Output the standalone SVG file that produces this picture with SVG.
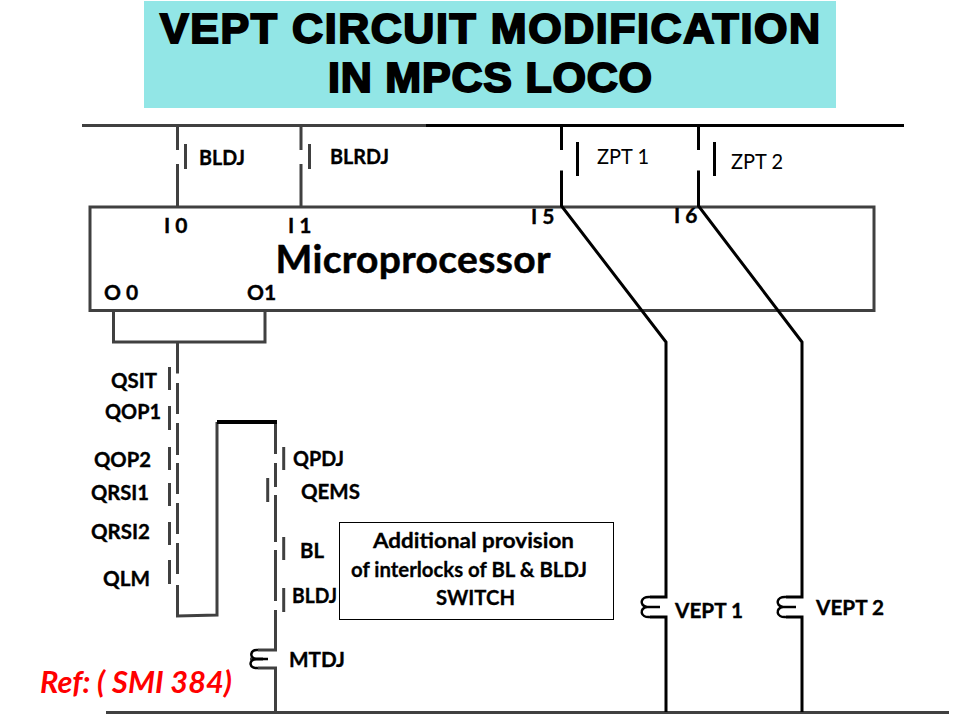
<svg xmlns="http://www.w3.org/2000/svg" width="960" height="720" viewBox="0 0 960 720">
<style>
.w{fill:none;stroke:#404040;stroke-width:3}
.k{fill:none;stroke:#000;stroke-width:3}
.c{fill:none;stroke:#000;stroke-width:2.5}
text{font-family:Lato,"Open Sans","Liberation Sans",sans-serif;fill:#000}
.l{font-size:21px;font-weight:700;stroke:#000;stroke-width:.35px}
.n{font-size:21px}
.t{font-family:"Liberation Sans",Arial,sans-serif;font-size:43px;font-weight:700;stroke:#000;stroke-width:2px;text-anchor:middle}
.b{font-size:21.500px;font-weight:700;text-anchor:middle;stroke:#000;stroke-width:.3px}
</style>
<rect id="title-bg" x="144" y="1" width="692" height="107" fill="#92E6E6"/>
<g id="title">
<text class="t" x="490" y="43" textLength="660" lengthAdjust="spacing">VEPT CIRCUIT MODIFICATION</text>
<text class="t" x="490" y="92" textLength="324" lengthAdjust="spacing">IN MPCS LOCO</text>
</g>
<g id="microprocessor">
<rect x="90" y="207" width="784" height="103.500" fill="#fff" stroke="#404040" stroke-width="3"/>
<text x="413" y="273" font-size="39" font-weight="700" text-anchor="middle" textLength="275" stroke="#000" stroke-width=".5">Microprocessor</text>
<text class="l" x="164" y="233">I 0</text>
<text class="l" x="288" y="233">I 1</text>
<text class="l" x="531" y="224">I 5</text>
<text class="l" x="674" y="223">I 6</text>
<text class="l" x="104" y="300">O 0</text>
<text class="l" x="247" y="300">O1</text>
</g>
<g id="connectors">
<path class="w" d="M82 125.500H426M106 712.500H949"/>
<path class="k" d="M426 125.500H904"/>
<path class="w" d="M177.500 125V150M177.500 164V207M301 125V150M301 164V207"/>
<path class="w" d="M113.500 311V342H265V311M177.500 342V373.500M177.500 383V414M177.500 423V455M177.500 463V494M177.500 503V534M177.500 543V574M177.500 585V616L217 615V422M275.500 422V454M275.500 463V487M275.500 495V542M275.500 550V601M275.500 610V650H258M263 659H250M258 668H275.500V712"/>
<path d="M217 422H277" fill="none" stroke="#000" stroke-width="4"/>
<path class="k" d="M561.500 125V150M561.500 170.500V206L666 342V597H650M698.500 125V150M698.500 170.500V206L802 342V597H786"/>
<path class="k" d="M650 617H666V712M786 617H802V712"/>
</g>
<g id="BLDJ"><path class="w" d="M185.500 144V169"/><text class="l" x="199" y="165" textLength="46" lengthAdjust="spacingAndGlyphs">BLDJ</text></g>
<g id="BLRDJ"><path class="w" d="M309.500 144V169"/><text class="l" x="330" y="164" textLength="59" lengthAdjust="spacingAndGlyphs">BLRDJ</text></g>
<g id="ZPT1"><path class="k" d="M577.500 142V176"/><text class="n" x="597" y="164" textLength="52" lengthAdjust="spacingAndGlyphs">ZPT 1</text></g>
<g id="ZPT2"><path class="k" d="M714.500 142V176"/><text class="n" x="731" y="169" textLength="52" lengthAdjust="spacingAndGlyphs">ZPT 2</text></g>
<g id="QSIT"><path class="w" d="M169.500 367V390"/><text class="l" x="111" y="388" textLength="46" lengthAdjust="spacingAndGlyphs">QSIT</text></g>
<g id="QOP1"><path class="w" d="M169.500 406V430"/><text class="l" x="105" y="419" textLength="56" lengthAdjust="spacingAndGlyphs">QOP1</text></g>
<g id="QOP2"><path class="w" d="M169.500 447V470"/><text class="l" x="94" y="467" textLength="57" lengthAdjust="spacingAndGlyphs">QOP2</text></g>
<g id="QRSI1"><path class="w" d="M169.500 483V506"/><text class="l" x="91" y="500" textLength="58" lengthAdjust="spacingAndGlyphs">QRSI1</text></g>
<g id="QRSI2"><path class="w" d="M169.500 522V545"/><text class="l" x="91" y="539" textLength="59" lengthAdjust="spacingAndGlyphs">QRSI2</text></g>
<g id="QLM"><path class="w" d="M169.500 560V584"/><text class="l" x="103" y="586" textLength="47" lengthAdjust="spacingAndGlyphs">QLM</text></g>
<g id="QPDJ"><path class="w" d="M283.700 447V470"/><text class="l" x="293" y="466" textLength="51" lengthAdjust="spacingAndGlyphs">QPDJ</text></g>
<g id="QEMS"><path class="w" d="M267.700 478V502"/><text class="l" x="301" y="499" textLength="59" lengthAdjust="spacingAndGlyphs">QEMS</text></g>
<g id="BL"><path class="w" d="M283.700 537V560"/><text class="l" x="300" y="558" textLength="24" lengthAdjust="spacingAndGlyphs">BL</text></g>
<g id="BLDJ2"><path class="w" d="M283.700 588V612"/><text class="l" x="292" y="603" textLength="45" lengthAdjust="spacingAndGlyphs">BLDJ</text></g>
<g id="MTDJ"><path class="c" d="M258 650C250 649 249 658 256 659C248 660 249 669 258 668M256 659H268"/><text class="l" x="289" y="667" textLength="56" lengthAdjust="spacingAndGlyphs">MTDJ</text></g>
<g id="VEPT1"><path class="c" d="M650 597C640 596 639 606 647 607C639 608 640 618 650 617M647 607H660"/><text class="l" x="675" y="618" textLength="68" lengthAdjust="spacingAndGlyphs">VEPT 1</text></g>
<g id="VEPT2"><path class="c" d="M786 597C776 596 775 606 783 607C775 608 776 618 786 617M783 607H796"/><text class="l" x="816" y="615" textLength="68" lengthAdjust="spacingAndGlyphs">VEPT 2</text></g>
<g id="note">
<rect x="339.500" y="522.500" width="274" height="97" fill="#fff" stroke="#000" stroke-width="1"/>
<text class="b" x="473.500" y="548" textLength="201" lengthAdjust="spacingAndGlyphs">Additional provision</text>
<text class="b" x="469" y="577" textLength="236" lengthAdjust="spacingAndGlyphs">of interlocks of BL &amp; BLDJ</text>
<text class="b" x="475.500" y="605" textLength="79" lengthAdjust="spacingAndGlyphs">SWITCH</text>
</g>
<text id="ref" x="40" y="693" font-size="30" font-weight="700" font-style="italic" textLength="192" lengthAdjust="spacingAndGlyphs" style="fill:#ff0000">Ref: ( SMI 384)</text>
</svg>
